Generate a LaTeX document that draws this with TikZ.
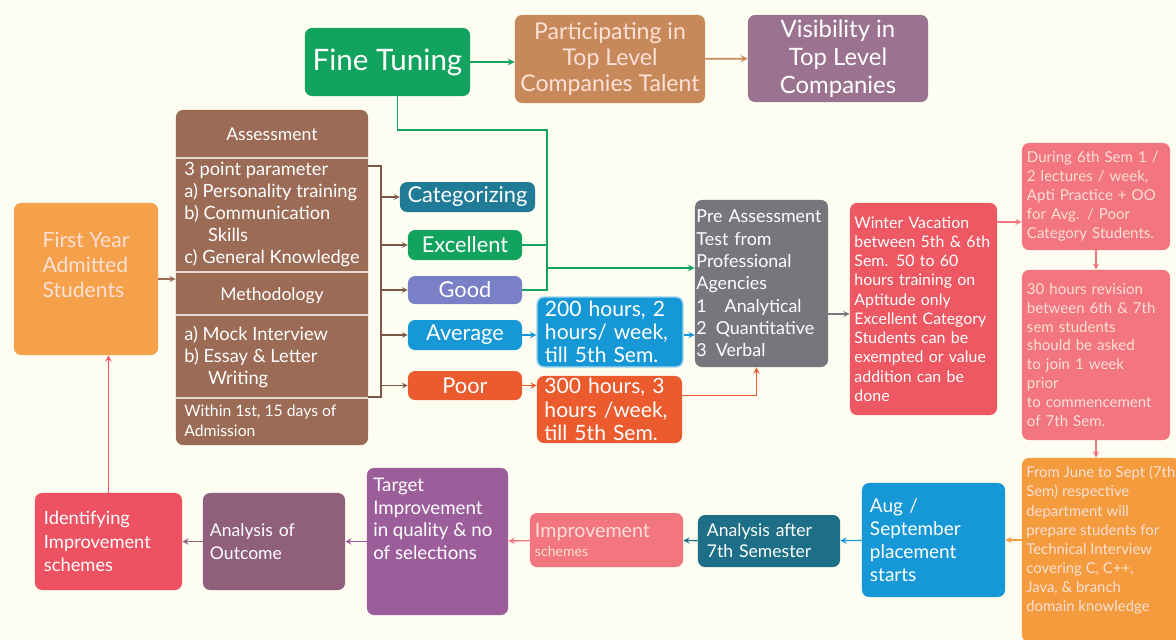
\documentclass[tikz,border=0pt]{standalone}
\usepackage{fontspec}
\setmainfont{Lato}
\usetikzlibrary{calc}
\definecolor{bgc}{HTML}{FEFDF2}
\definecolor{cfirst}{HTML}{F5A04A}
\definecolor{cbrown}{HTML}{9B6B56}
\definecolor{cgreen}{HTML}{12A35E}
\definecolor{ctan}{HTML}{C8895A}
\definecolor{cmauve}{HTML}{9B7390}
\definecolor{cteal}{HTML}{1F7B96}
\definecolor{clav}{HTML}{7A80C6}
\definecolor{cblue}{HTML}{1798D6}
\definecolor{cpoor}{HTML}{EC5B2D}
\definecolor{cgrey}{HTML}{77767C}
\definecolor{cwin}{HTML}{EE5862}
\definecolor{cpink}{HTML}{F27580}
\definecolor{cjune}{HTML}{F39B3D}
\definecolor{cdteal}{HTML}{1C6F86}
\definecolor{cpurple}{HTML}{9B5E9B}
\definecolor{cplum}{HTML}{8F5F7C}
\definecolor{cident}{HTML}{EE5262}
\definecolor{fadet}{HTML}{FDE0D6}
\newcommand\fsz[2]{\fontsize{#1}{#2}\selectfont}

\begin{document}
\begin{tikzpicture}[x=0.025cm,y=-0.025cm,>=stealth,
  bx/.style={rounded corners=5pt, text=white, inner sep=0pt, align=left},
  lbl/.style={text=white, inner sep=0pt, align=left},
  cn/.style={line width=1pt, ->}]
\fill[bgc] (0,0) rectangle (1176,639);
\useasboundingbox (0,0) rectangle (1176,639);

\node[bx, fill=cfirst, minimum width=3.6cm, minimum height=3.8cm] (first) at (86,279) {};
\node[lbl, text=fadet, font=\fsz{15}{18}] at (86,265) {First Year\\Admitted\\Students};

\node[bx, fill=cbrown, minimum width=4.8cm, minimum height=8.375cm] (assess) at (272,277.5) {};
\foreach \yy in {158,272,315,398} \draw[white!75!cbrown, line width=0.8pt] (176,\yy) -- (368,\yy);
\node[lbl, font=\fsz{12.5}{14}] at (272,134) {Assessment};
\node[lbl, anchor=north west, font=\fsz{13}{15.6}] at (184,162) {3 point parameter\\a) Personality training\\b) Communication\\\hspace*{1.3em}Skills\\c) General Knowledge};
\node[lbl, font=\fsz{12.5}{14}] at (272,296) {Methodology};
\node[lbl, anchor=north west, font=\fsz{13}{15.6}] at (184,326) {a) Mock Interview\\b) Essay \& Letter\\\hspace*{1.3em}Writing};
\node[lbl, anchor=north west, font=\fsz{11.2}{14}] at (184,405) {Within 1st, 15 days of\\Admission};

\node[bx, fill=cgreen, align=center, minimum width=4.125cm, minimum height=1.7cm, font=\fsz{21}{24}] (fine) at (387.5,62) {Fine Tuning};
\node[bx, fill=ctan, text=fadet, align=center, minimum width=4.75cm, minimum height=2.2cm, font=\fsz{16.4}{18.5}] (part) at (610,59) {Participating in\\Top Level\\Companies Talent};
\node[bx, fill=cmauve, align=center, minimum width=4.5cm, minimum height=2.175cm, font=\fsz{17}{20}] (vis) at (838,58.5) {Visibility in\\Top Level\\Companies};

\node[bx, fill=cteal, align=center, minimum width=3.375cm, minimum height=0.75cm, font=\fsz{15.5}{16}] (cat) at (467.5,197) {Categorizing};
\node[bx, fill=cgreen, align=center, minimum width=2.85cm, minimum height=0.75cm, font=\fsz{15.5}{16}] (exc) at (465,245) {Excellent};
\node[bx, fill=clav, align=center, minimum width=2.85cm, minimum height=0.7cm, font=\fsz{15.5}{16}] (good) at (465,290) {Good};
\node[bx, fill=cblue, align=center, minimum width=2.85cm, minimum height=0.75cm, font=\fsz{15.5}{16}] (avg) at (465,335) {Average};
\node[bx, fill=cpoor, align=center, minimum width=2.85cm, minimum height=0.725cm, font=\fsz{15.5}{16}] (poor) at (465,385.5) {Poor};

\node[bx, fill=cblue, draw=cblue!40, line width=1pt, text width=3.25cm, minimum width=3.65cm, minimum height=1.75cm, font=\fsz{15}{16.5}] (h200) at (610,332) {200 hours, 2\\hours/ week,\\till 5th Sem.};
\node[bx, fill=cpoor, text width=3.25cm, minimum width=3.625cm, minimum height=1.675cm, font=\fsz{15}{16.5}] (h300) at (609.5,409.5) {300 hours, 3\\hours /week,\\till 5th Sem.};
\node[bx, fill=cgrey, text width=3.25cm, minimum width=3.325cm, minimum height=4.175cm, font=\fsz{12.7}{15.9}] (pre) at (761.5,283.5) {Pre\ Assessment\\Test from\\Professional\\Agencies\\1\quad Analytical\\2\enspace Quantitative\\3\enspace Verbal};

\node[bx, fill=cwin, text width=3.45cm, minimum width=3.675cm, minimum height=5.3cm, font=\fsz{11.3}{13.7}] (win) at (923.5,309) {Winter Vacation\\between 5th \& 6th\\Sem. 50 to 60\\hours training on\\Aptitude only\\Excellent Category\\Students can be\\exempted or value\\addition can be\\done};
\node[bx, fill=cpink, text=fadet, text width=3.45cm, minimum width=3.7cm, minimum height=2.675cm, font=\fsz{10.7}{13.5}] (during) at (1096,196.5) {During 6th Sem 1 /\\2 lectures / week,\\Apti Practice + OO\\for Avg. / Poor\\Category Students.};
\node[bx, fill=cpink, text=fadet, text width=3.45cm, minimum width=3.7cm, minimum height=4.25cm, font=\fsz{10.7}{13.5}] (rev) at (1096,355) {30 hours revision\\between 6th \& 7th\\sem students\\should be asked\\to join 1 week\\prior\\to commencement\\of 7th Sem.};
\node[bx, fill=cjune, minimum width=3.95cm, minimum height=4.6cm] (june) at (1101,550) {};
\node[lbl, text=fadet, anchor=north west, font=\fsz{10.6}{13.6}] at (1026,466) {From June to Sept (7th\\Sem) respective\\department will\\prepare students for\\Technical Interview\\covering C, C++,\\Java, \& branch\\domain knowledge};

\node[bx, fill=cblue, text width=3.175cm, minimum width=3.575cm, minimum height=2.85cm, font=\fsz{13.5}{16.5}] (aug) at (933.5,540) {Aug /\\September\\placement\\starts};
\node[bx, fill=cdteal, text width=3.1cm, minimum width=3.55cm, minimum height=1.3cm, font=\fsz{12.5}{15}] (an7) at (769,541) {Analysis after\\7th Semester};
\node[bx, fill=cpink, text=fadet, text width=3.575cm, minimum width=3.825cm, minimum height=1.35cm, font=\fsz{14}{14}] (imp) at (606.5,540) {Improvement\\{\fsz{10}{12}schemes}};
\node[bx, fill=cpurple, minimum width=3.525cm, minimum height=3.675cm] (target) at (437.5,541.5) {};
\node[lbl, anchor=north west, font=\fsz{13.3}{16}] at (373,478) {Target\\Improvement\\in quality \& no\\of selections};
\node[bx, fill=cplum, text width=3.2cm, minimum width=3.55cm, minimum height=2.425cm, font=\fsz{12.5}{16}] (outcome) at (274,541.5) {Analysis of\\Outcome};
\node[bx, fill=cident, text width=3.225cm, minimum width=3.675cm, minimum height=2.425cm, font=\fsz{13}{16.5}] (ident) at (108.5,541.5) {Identifying\\Improvement\\schemes};

\draw[cn, cbrown] (first.east) -- (first.east -| assess.west);
\coordinate (bk) at (381,166);
\coordinate (bb) at (381,397);
\draw[line width=0.8pt, cbrown!80!black] (assess.east |- bk) -- (bk) -- (bb) -- (assess.east |- bb);
\foreach \n in {cat,exc,good,avg,poor} \draw[cn, line width=0.8pt, cbrown!80!black] (bk |- \n) -- (\n.west);

\coordinate (gt) at (547,130);
\coordinate (gj) at (547,268);
\draw[line width=1pt, cgreen] ([xshift=0.25cm]fine.south) |- (gt) |- (good.east);
\draw[line width=1pt, cgreen] (exc.east) -- (exc.east -| gt);
\draw[cn, line width=1.2pt, cgreen] (gj) -- (gj -| pre.west);
\draw[cn, line width=1.2pt, cgreen] (fine.east) -- (fine.east -| part.west);
\draw[cn, line width=1.2pt, ctan] (part) -- (vis);

\draw[cn, cblue] (avg.east) -- (avg.east -| h200.west);
\draw[cn, cblue] (h200.east |- avg) -- (pre.west |- avg);
\draw[cn, cpoor] (poor.east) -- (poor.east -| h300.west);
\draw[cn, cpoor] ($(h300.east)+(0,-14)$) -| ($(pre.south)+(-5,0)$);
\coordinate (pw) at (828,314);
\draw[cn, cgrey] (pw) -- (pw -| win.west);

\coordinate (wd) at (997,222);
\draw[cn, cpink] (wd) -- (wd -| during.west);
\draw[cn, cpink] (during) -- (rev);
\draw[cn, cpink] (rev.south) -- (rev.south |- june.north);
\draw[cn, cjune] (june.west |- aug) -- (aug.east);
\draw[cn, cblue] (aug) -- (an7);
\draw[cn, cdteal] (an7) -- (imp);
\draw[cn, cpink] (imp) -- (target);
\draw[cn, cpurple] (target) -- (outcome);
\draw[cn, cplum] (outcome) -- (ident);
\draw[cn, cident] (ident.north) -- (ident.north |- first.south);
\end{tikzpicture}
\end{document}
